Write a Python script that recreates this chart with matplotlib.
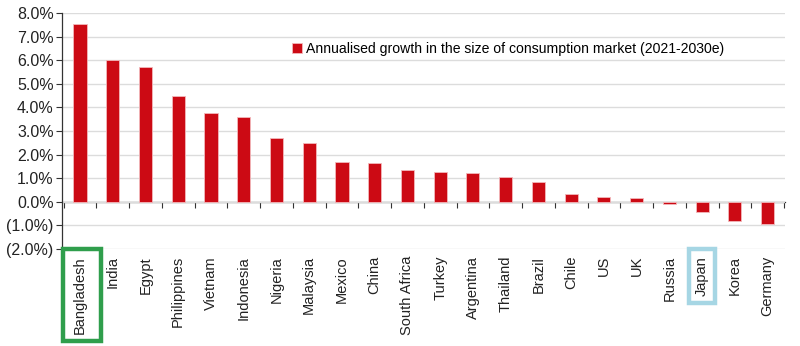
import matplotlib
matplotlib.use("Agg")
import matplotlib.pyplot as plt
from matplotlib.patches import Rectangle
from matplotlib.ticker import FuncFormatter, MultipleLocator
import numpy as np

countries = ["Bangladesh", "India", "Egypt", "Philippines", "Vietnam", "Indonesia",
             "Nigeria", "Malaysia", "Mexico", "China", "South Africa", "Turkey",
             "Argentina", "Thailand", "Brazil", "Chile", "US", "UK", "Russia",
             "Japan", "Korea", "Germany"]
growth = [7.55, 6.0, 5.7, 4.5, 3.75, 3.6, 2.7, 2.5, 1.7, 1.65, 1.33, 1.25,
          1.22, 1.03, 0.85, 0.35, 0.22, 0.17, -0.1, -0.45, -0.83, -0.92]
series_label = "Annualised growth in the size of consumption market (2021-2030e)"
# label -> (box colour, horizontal pad, vertical pad, horizontal shift) in pixels
highlights = {"Bangladesh": ("#2f9e4c", 12, 7, 2), "Japan": ("#a6d6e4", 6, 7, 0)}

plt.rcParams["font.family"] = ["Liberation Sans", "DejaVu Sans"]

fig = plt.figure(figsize=(8.0, 3.46), dpi=100)
ax = fig.add_axes([62 / 800, 1 - 249 / 346, (785 - 62) / 800, (249 - 13) / 346])

x = np.arange(len(countries))
ax.bar(x, growth, width=0.4, color="#cc0a14", edgecolor="#f3b8bb", linewidth=0.6,
       label=series_label, zorder=3)

ax.set_ylim(-2, 8)
ax.set_xlim(-0.55, len(countries) - 0.47)
ax.yaxis.set_major_locator(MultipleLocator(1))
ax.yaxis.set_major_formatter(FuncFormatter(
    lambda v, _: f"{v:.1f}%" if v >= 0 else f"({abs(v):.1f}%)"))
ax.grid(axis="y", color="#dcdcdc", linewidth=1.0, zorder=0)
ax.tick_params(axis="y", labelsize=11.5, length=4, width=0.8, color="#333333",
               labelcolor="#222222", pad=2)

for side in ("top", "right", "bottom"):
    ax.spines[side].set_visible(False)
ax.spines["left"].set_color("#333333")
ax.spines["left"].set_linewidth(0.9)

# category labels along the bottom edge
ax.set_xticks(x)
ax.set_xticklabels(countries, rotation=90, fontsize=10.5, color="#222222")
ax.tick_params(axis="x", length=0, pad=5)

# zero baseline with tick marks between categories
zero_axis = ax.secondary_xaxis(0.2)
zero_axis.set_xticks(np.arange(len(countries) + 1) - 0.5)
zero_axis.set_xticklabels([])
zero_axis.tick_params(length=4, width=0.8, color="#333333")
zero_axis.spines["bottom"].set_color("#333333")
zero_axis.spines["bottom"].set_linewidth(0.9)

leg = ax.legend(loc="upper left", bbox_to_anchor=(0.31, 0.9), frameon=False,
                fontsize=10.1, handlelength=0.7, handleheight=0.7,
                handletextpad=0.35, borderaxespad=0)

# boxes around highlighted country labels
fig.canvas.draw()
renderer = fig.canvas.get_renderer()
for lbl in ax.get_xticklabels():
    name = lbl.get_text()
    if name in highlights:
        color, padx, pady, shift = highlights[name]
        bb = lbl.get_window_extent(renderer)
        x0, y0 = bb.x0 - padx + shift, bb.y0 - pady
        w, h = bb.width + 2 * padx, bb.height + 2 * pady
        fig.patches.append(Rectangle((x0 / 800, y0 / 346), w / 800, h / 346,
                                     transform=fig.transFigure, fill=False,
                                     edgecolor=color, linewidth=3.2))

fig.savefig("out.png", dpi=100)
